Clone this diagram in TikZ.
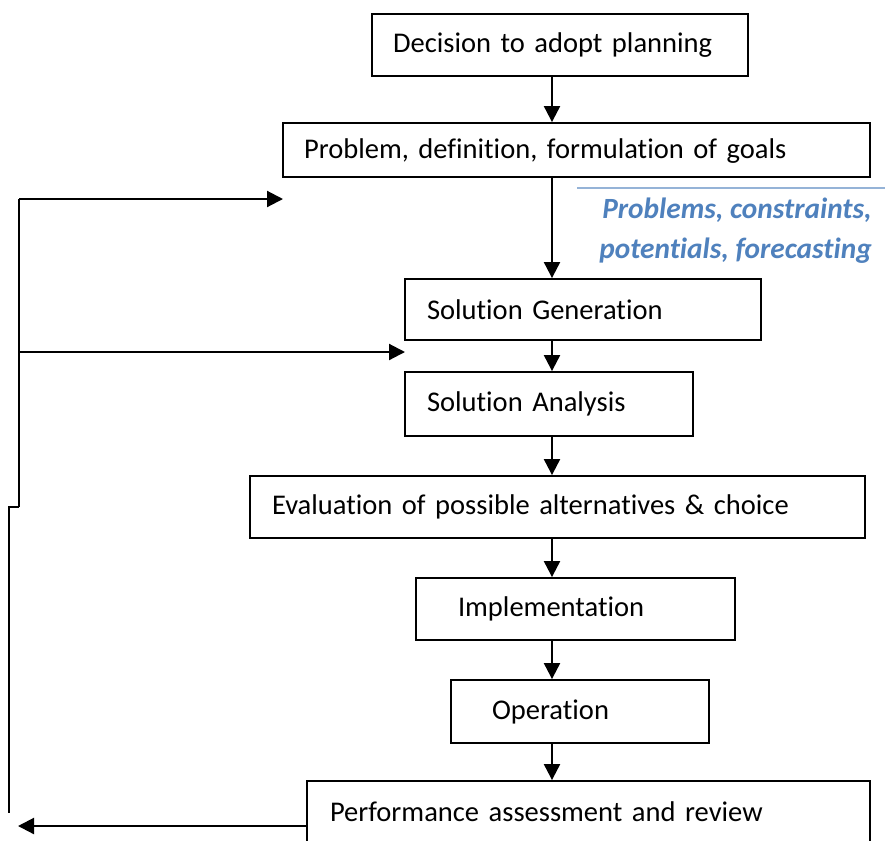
\documentclass[tikz,border=0pt]{standalone}
\usepackage{fontspec}
\setmainfont[Ligatures=NoCommon]{Carlito}
\usetikzlibrary{arrows.meta}
\definecolor{accblue}{HTML}{4F81BD}
\definecolor{lineblue}{HTML}{95B3D7}
\tikzset{
  box/.style={draw, line width=1.4pt, inner ysep=0pt, align=left,
    font=\fontsize{21.4}{26}\selectfont, anchor=center},
  arr/.style={line width=1.6pt, -{Triangle[length=12pt,width=12pt]}},
  fline/.style={line width=1.6pt},
}
\begin{document}
\begin{tikzpicture}[x=0.75pt,y=-0.75pt]
\clip (0,0) rectangle (885,840);
\fill[white] (0,0) rectangle (885,840);
% boxes
\node[box, minimum width=282pt, minimum height=46.5pt, inner xsep=15.75pt, text width=250.5pt] (dec) at (560,45) {Decision to adopt planning};
\node[box, minimum width=440.25pt, minimum height=40.5pt, inner xsep=15.75pt, text width=408.75pt, text depth=2pt] (prob) at (576.5,150) {Problem, definition, formulation of goals};
\node[box, minimum width=267pt, minimum height=45.75pt, inner xsep=16.5pt, text width=234pt] (gen) at (583,309.5) {Solution Generation};
\node[box, minimum width=216pt, minimum height=48pt, inner xsep=16.5pt, text width=183pt] (ana) at (549,404) {Solution Analysis};
\node[box, minimum width=461.25pt, minimum height=46.5pt, inner xsep=16.5pt, text width=428.25pt] (eva) at (557.5,507) {Evaluation of possible alternatives \& choice};
\node[box, minimum width=239.25pt, minimum height=46.5pt, inner xsep=31.5pt, text width=176.25pt] (imp) at (575.5,609) {Implementation};
\node[box, minimum width=193.5pt, minimum height=47.25pt, inner xsep=30.75pt, text width=132pt] (ope) at (580,711.5) {Operation};
\node[box, minimum width=422.25pt, minimum height=46.5pt, inner xsep=17.25pt, text width=387.75pt] (per) at (588.5,812) {Performance assessment and review};
% vertical arrows
\coordinate (ax) at (552,0);
\draw[arr] (dec.south -| ax) -- (prob.north -| ax);
\draw[arr] (prob.south -| ax) -- (gen.north -| ax);
\draw[arr] (gen.south -| ax) -- (ana.north -| ax);
\draw[arr] (ana.south -| ax) -- (eva.north -| ax);
\draw[arr] (eva.south -| ax) -- (imp.north -| ax);
\draw[arr] (imp.south -| ax) -- (ope.north -| ax);
\draw[arr] (ope.south -| ax) -- (per.north -| ax);
% annotation
\coordinate (bl1) at (577,188);
\coordinate (bl2) at (885,188);
\draw[lineblue, line width=1.1pt] (bl1) -- (bl2);
\node[anchor=east, align=right, text=accblue, inner sep=0pt,
  font=\fontsize{22}{30}\selectfont\bfseries\itshape] (note) at (872,231)
  {Problems, constraints,\\potentials, forecasting};
% feedback loop
\coordinate (fa) at (19,199);
\coordinate (fb) at (19,352);
\coordinate (fc) at (19,507);
\coordinate (fd) at (9,507);
\coordinate (fe) at (9,813);
\coordinate (ta) at (283,199);
\coordinate (tb) at (405,352);
\coordinate (pa) at (307,826);
\coordinate (pb) at (18,826);
\draw[fline] (fc) -- (fa);
\draw[fline] (fc) -- (fd) -- (fe);
\draw[arr] (fa) -- (ta);
\draw[arr] (fb) -- (tb);
\draw[arr] (pa) -- (pb);
\end{tikzpicture}
\end{document}
